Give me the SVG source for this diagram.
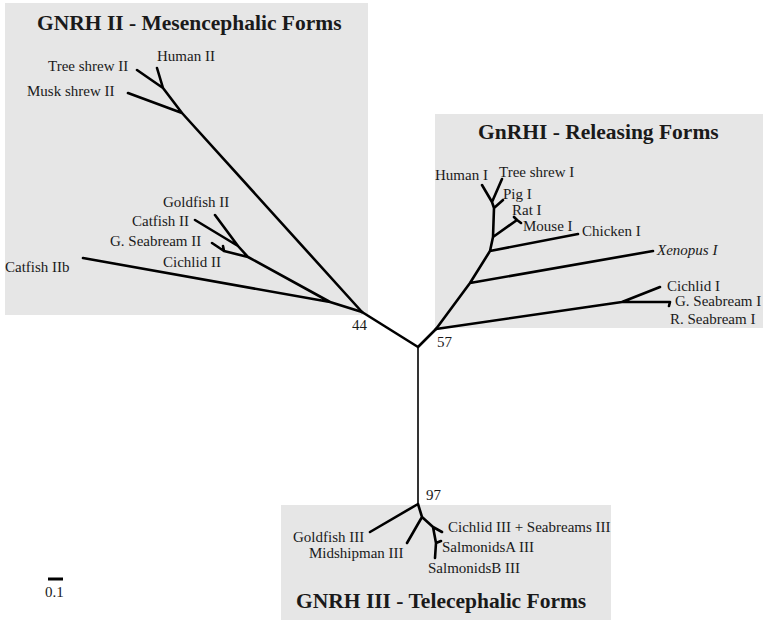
<svg xmlns="http://www.w3.org/2000/svg" width="763" height="620" viewBox="0 0 763 620">
<style>
.box{fill:#e6e6e6;stroke:none}
.title{font-family:"Liberation Serif",serif;font-weight:bold;font-size:21.5px;fill:#1a1a1a}
.lbl{font-family:"Liberation Serif",serif;font-size:15px;fill:#1a1a1a}
.num{font-family:"Liberation Serif",serif;font-size:15px;fill:#1a1a1a}
.br{fill:none;stroke:#000;stroke-width:2.6;stroke-linecap:round;stroke-linejoin:round}
.trunk{fill:none;stroke:#000;stroke-width:1.6}
</style>
<rect width="763" height="620" fill="#fff"/>
<g id="box-gnrh2"><rect class="box" x="5" y="3" width="363" height="312"/><text class="title" x="37" y="30">GNRH II - Mesencephalic Forms</text></g>
<g id="box-gnrh1"><rect class="box" x="435" y="114" width="328" height="214"/><text class="title" x="478" y="139">GnRHI - Releasing Forms</text></g>
<g id="box-gnrh3"><rect class="box" x="281" y="505" width="330" height="115"/><text class="title" x="296" y="608">GNRH III - Telecephalic Forms</text></g>

<g id="connectors">
<path class="trunk" d="M418,347 L418,504"/>
<path class="br" d="M418,347 L362,312 M418,347 L436,329"/>
<!-- GnRH II -->
<path class="br" d="M362,312 L182,113 M182,113 L128,93 M182,113 L163,88 M163,88 L137,70 M163,88 L157,68"/>
<path class="br" d="M362,312 L330,302 M330,302 L83,258 M330,302 L248,257 M248,257 L238,246 M238,246 L215,215 M238,246 L195,220 M248,257 L224,251 M224,251 L212,243 M224,251 L223,246"/>
<!-- GnRH I -->
<path class="br" d="M436,329 L470,283 L490,251 L493,237 L494,208 L492,202 M492,202 L482,185 M492,202 L502,179 M494,208 L503,200 M493,237 L517,220 M517,220 L514,217 M517,220 L521,223 M490,251 L578,234 M470,283 L653,251"/>
<path class="br" d="M436,329 L622,302 M622,302 L660,287 M622,302 L670,302 M670,302 L669,306"/>
<!-- GnRH III -->
<path class="br" d="M418,504 L370,532 M418,504 L422,517 M422,517 L407,543 M422,517 L433,527 M433,527 L442,532 M433,527 L436,543 L435,558 M436,543 L441,541"/>
<!-- scale bar -->
<path d="M48,579 L63,579" stroke="#000" stroke-width="3"/>
</g>

<g id="labels">
<text class="lbl" x="157" y="61">Human II</text>
<text class="lbl" x="48" y="71">Tree shrew II</text>
<text class="lbl" x="27" y="96">Musk shrew II</text>
<text class="lbl" x="163" y="207">Goldfish II</text>
<text class="lbl" x="132" y="226">Catfish II</text>
<text class="lbl" x="110" y="246">G. Seabream II</text>
<text class="lbl" x="163" y="267">Cichlid II</text>
<text class="lbl" x="5" y="272">Catfish IIb</text>
<text class="lbl" x="435" y="180">Human I</text>
<text class="lbl" x="499" y="177">Tree shrew I</text>
<text class="lbl" x="503" y="199">Pig I</text>
<text class="lbl" x="512" y="215">Rat I</text>
<text class="lbl" x="523" y="231">Mouse I</text>
<text class="lbl" x="582" y="236">Chicken I</text>
<text class="lbl" x="657" y="255" font-style="italic">Xenopus I</text>
<text class="lbl" x="667" y="291">Cichlid I</text>
<text class="lbl" x="675" y="306">G. Seabream I</text>
<text class="lbl" x="670" y="324">R. Seabream I</text>
<text class="lbl" x="293" y="542">Goldfish III</text>
<text class="lbl" x="309" y="558">Midshipman III</text>
<text class="lbl" x="448" y="532">Cichlid III + Seabreams III</text>
<text class="lbl" x="442" y="552">SalmonidsA III</text>
<text class="lbl" x="428" y="573">SalmonidsB III</text>
<text class="num" x="352" y="330">44</text>
<text class="num" x="437" y="347">57</text>
<text class="num" x="426" y="500">97</text>
<text class="num" x="45" y="597">0.1</text>
</g>
</svg>
